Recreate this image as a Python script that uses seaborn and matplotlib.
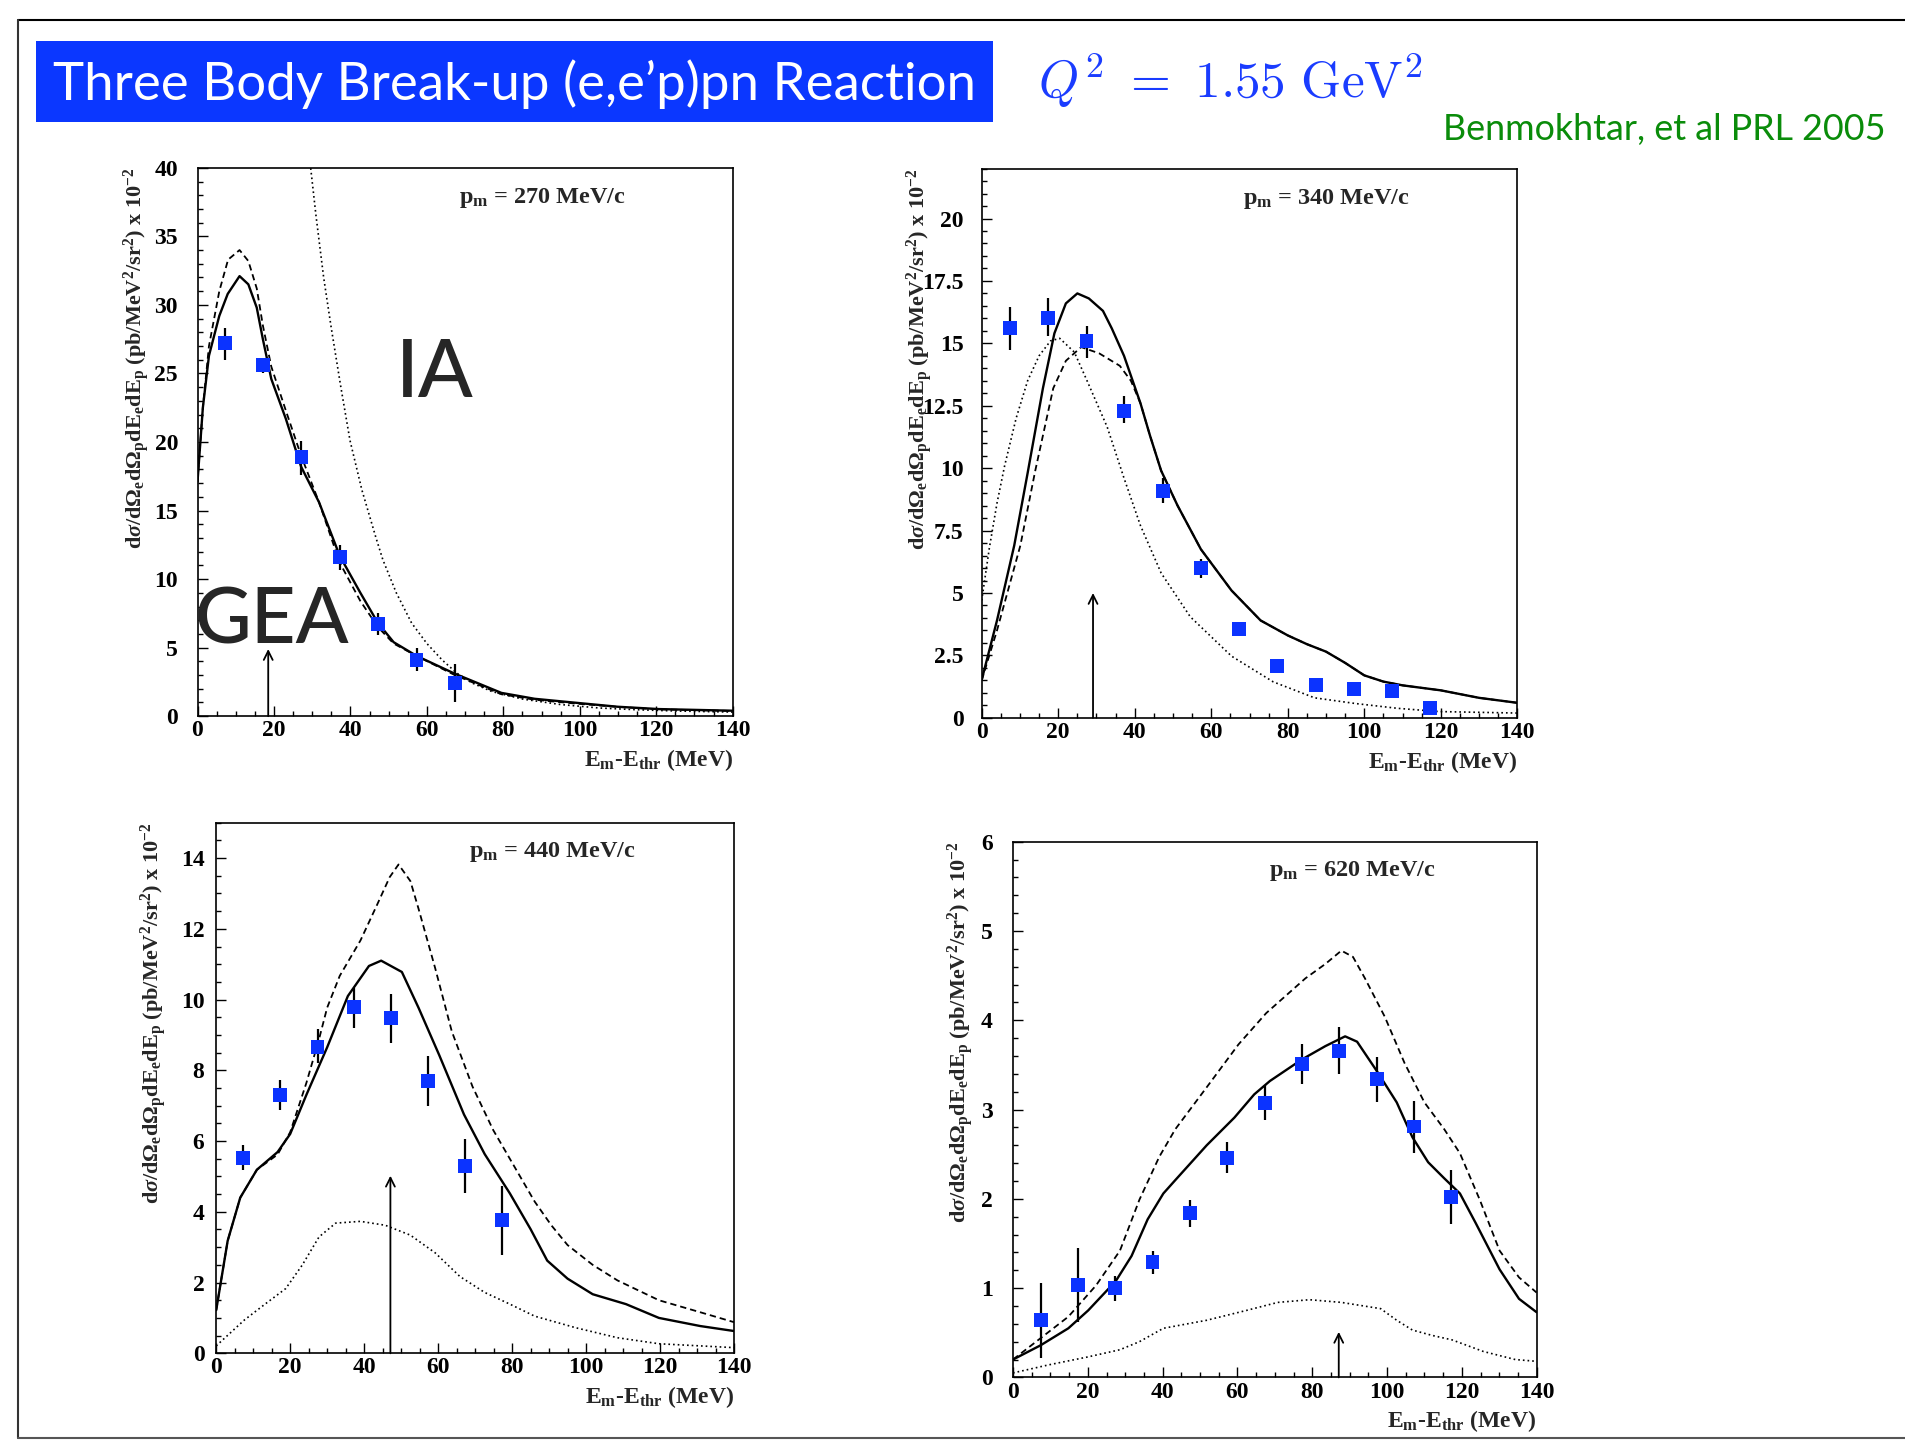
import matplotlib
matplotlib.use("Agg")
import pandas as pd
import matplotlib.pyplot as plt
import seaborn as sns
from matplotlib.lines import Line2D
from matplotlib.patches import Rectangle
from matplotlib.ticker import MultipleLocator, FuncFormatter

# === Settings ===
sns.set_theme(style="ticks")
plt.rcParams.update({
    "font.family": ["Liberation Serif", "DejaVu Serif"],
    "font.weight": "bold",
    "mathtext.fontset": "custom",
    "mathtext.rm": "Liberation Serif:bold",
    "mathtext.it": "Liberation Serif:italic:bold",
    "mathtext.bf": "Liberation Serif:bold",
    "axes.linewidth": 1.2,
    "axes.edgecolor": "black",
})

W, H = 1906, 1443
BLUE = "#0b33ff"

# === Data: p_m = 270 MeV/c ===
p270_x = [7.3, 17.2, 27.2, 37.2, 47.2, 57.3, 67.3]
p270_y = [27.2, 25.6, 18.9, 11.6, 6.7, 4.1, 2.4]
p270_hi = [28.3, 26.1, 20.1, 12.5, 7.5, 5.0, 3.8]
p270_lo = [26.0, 25.0, 17.6, 10.7, 5.9, 3.3, 1.0]
gea270_x = [0, 1.4, 3, 5.7, 7.9, 11, 13.3, 15.5, 17.1, 19.3, 23.1, 27.1, 31.8, 37.2, 42.6,
            47.2, 51.3, 57.3, 67.3, 79.5, 88.2, 99, 109.9, 120.7, 140]
gea270_y = [17.1, 22.5, 26.3, 29.2, 30.8, 32.1, 31.5, 29.8, 27.5, 24.6, 21.7, 18.2, 15.6, 11.7, 9.0,
            6.8, 5.4, 4.4, 3.1, 1.7, 1.27, 0.98, 0.69, 0.52, 0.4]
nr270_x = [0, 1.4, 3, 5.7, 8, 11, 13.3, 15.5, 17.1, 19.3, 23.1, 27.1, 31.8, 37.2, 42.6,
           47.2, 51.3, 57.3, 67.3, 79.5, 88.2, 99, 109.9, 120.7, 140]
nr270_y = [17.1, 22.5, 27.0, 31.0, 33.3, 34.0, 33.2, 31.2, 28.5, 25.5, 22.3, 19.0, 15.6, 11.2, 8.4,
           6.5, 5.3, 4.4, 3.0, 1.6, 1.2, 0.92, 0.68, 0.5, 0.38]
ia270_x = [28.8, 29.6, 31, 33, 35, 37.5, 39.9, 43, 46.7, 48.5, 52, 56, 60, 64, 67.8, 72, 77,
           85, 95, 105, 115, 125, 140]
ia270_y = [42, 40, 36.5, 32, 28.3, 24, 20.1, 16.5, 13.0, 11.4, 9.0, 6.8, 5.3, 4.1, 3.15, 2.4, 1.8,
           1.25, 0.85, 0.6, 0.47, 0.38, 0.3]

# === Data: p_m = 340 MeV/c ===
p340_x = [7.3, 17.3, 27.4, 37.3, 47.4, 57.3, 67.3, 77.3, 87.3, 97.3, 107.3, 117.2]
p340_y = [15.6, 16.0, 15.1, 12.3, 9.1, 6.0, 3.56, 2.06, 1.33, 1.17, 1.08, 0.38]
p340_hi = [16.45, 16.8, 15.7, 12.9, 9.6, 6.35, 3.7, 2.15, 1.45, 1.25, 1.15, 0.45]
p340_lo = [14.75, 15.3, 14.4, 11.8, 8.6, 5.6, 3.4, 1.95, 1.2, 1.08, 1.0, 0.3]
gea340_x = [0, 4, 8.5, 12, 16, 19, 22, 25, 28, 31.7, 34, 37.2, 41.5, 44, 46.9, 51.2, 57.3,
            65.3, 72.9, 80, 85, 90, 95, 100, 105, 110, 120, 130, 140]
gea340_y = [1.52, 3.9, 6.9, 9.8, 13.2, 15.4, 16.6, 17.0, 16.8, 16.3, 15.6, 14.5, 12.6, 11.3, 9.9,
            8.5, 6.75, 5.1, 3.9, 3.3, 2.95, 2.65, 2.2, 1.7, 1.45, 1.3, 1.1, 0.8, 0.6]
nr340_x = [0, 4, 10.1, 14, 18.7, 22, 26, 30.7, 36.1, 39, 41.5, 44, 46.9, 51.2, 57.3,
           65.3, 72.9, 80, 85, 90, 95, 100, 105, 110, 120, 130, 140]
nr340_y = [1.5, 3.5, 6.9, 9.9, 13.2, 14.3, 14.85, 14.6, 14.1, 13.5, 12.6, 11.3, 9.9, 8.5, 6.75,
           5.1, 3.9, 3.3, 2.95, 2.65, 2.2, 1.7, 1.45, 1.3, 1.1, 0.8, 0.6]
ia340_x = [0, 2, 4, 6, 9, 12, 15, 18, 20.4, 24.2, 27.4, 32.8, 37.2, 41.5, 46.9, 54.5, 65.3,
           76.2, 87, 97.8, 108.7, 119.5, 140]
ia340_y = [4.7, 6.8, 8.6, 10.1, 12.0, 13.5, 14.5, 15.1, 15.2, 14.65, 13.55, 11.65, 9.6, 7.7, 5.8,
           4.05, 2.47, 1.44, 0.8, 0.57, 0.38, 0.25, 0.19]

# === Data: p_m = 440 MeV/c ===
p440_x = [7.3, 17.3, 27.4, 37.3, 47.3, 57.3, 67.3, 77.3]
p440_y = [5.52, 7.31, 8.65, 9.8, 9.47, 7.69, 5.3, 3.76]
p440_hi = [5.88, 7.73, 9.16, 10.33, 10.16, 8.41, 6.06, 4.74]
p440_lo = [5.17, 6.89, 8.21, 9.21, 8.77, 6.98, 4.52, 2.78]
gea440_x = [0, 3.1, 6.5, 11, 16.6, 20, 24.4, 30, 35.6, 41.3, 44.6, 50.2, 54.7, 60.3, 67, 72.6,
            79.4, 85, 89.5, 95, 101.8, 110.8, 119.7, 130.9, 140]
gea440_y = [1.22, 3.18, 4.4, 5.19, 5.69, 6.2, 7.31, 8.65, 10.1, 10.95, 11.1, 10.78, 9.77, 8.43,
            6.75, 5.63, 4.52, 3.51, 2.62, 2.11, 1.67, 1.39, 1.0, 0.77, 0.63]
nr440_x = [0, 3.1, 6.5, 11, 16.6, 20, 24.4, 27.8, 30, 33.4, 39, 43.5, 46.9, 49.3, 52.5, 54.7,
           59.2, 63.7, 69.3, 74.9, 80.5, 86.1, 90.6, 95, 101.8, 108.5, 119.7, 130.9, 140]
nr440_y = [1.22, 3.18, 4.4, 5.19, 5.62, 6.25, 7.65, 8.88, 9.77, 10.67, 11.67, 12.68, 13.46, 13.82,
           13.35, 12.57, 10.89, 9.1, 7.54, 6.31, 5.3, 4.29, 3.62, 3.06, 2.5, 2.06, 1.5, 1.16, 0.88]
ia440_x = [0, 7.6, 13.2, 18.8, 23.3, 27.8, 32.3, 39, 45.7, 52.5, 59.2, 65.9, 72.6, 79.4, 86.1,
           97.3, 108.5, 119.7, 140]
ia440_y = [0.21, 0.94, 1.39, 1.83, 2.5, 3.29, 3.68, 3.73, 3.62, 3.34, 2.84, 2.17, 1.72, 1.39,
           1.05, 0.72, 0.44, 0.27, 0.16]

# === Data: p_m = 620 MeV/c ===
p620_x = [7.4, 17.3, 27.3, 37.3, 47.3, 57.3, 67.3, 77.3, 87.2, 97.3, 107.2, 117.2]
p620_y = [0.64, 1.03, 1.0, 1.29, 1.84, 2.46, 3.07, 3.51, 3.66, 3.34, 2.81, 2.02]
p620_hi = [1.06, 1.45, 1.14, 1.42, 1.99, 2.64, 3.28, 3.73, 3.92, 3.59, 3.1, 2.32]
p620_lo = [0.22, 0.62, 0.86, 1.16, 1.69, 2.29, 2.88, 3.29, 3.4, 3.08, 2.51, 1.72]
gea620_x = [0, 7.4, 14.8, 20.1, 27.5, 31.7, 36, 40.2, 43.4, 51.8, 59.2, 64.5, 68.7, 77.2, 83.5,
            88.8, 92, 97.3, 102.6, 106.8, 111, 115.3, 119.5, 123.7, 130.1, 135.3, 140]
gea620_y = [0.2, 0.36, 0.55, 0.75, 1.08, 1.36, 1.77, 2.06, 2.21, 2.6, 2.91, 3.17, 3.32, 3.56, 3.71,
            3.82, 3.76, 3.43, 3.08, 2.69, 2.41, 2.23, 2.06, 1.73, 1.21, 0.88, 0.73]
nr620_x = [0, 7.4, 14.8, 22.2, 28.6, 33.8, 39.1, 43.4, 51.8, 60.3, 67.7, 78.2, 83.5, 87.8, 90.9,
           94.1, 99.4, 104.7, 110, 115.3, 119.5, 124.8, 130.1, 135.3, 140]
nr620_y = [0.2, 0.44, 0.68, 1.03, 1.42, 1.99, 2.47, 2.78, 3.25, 3.73, 4.08, 4.47, 4.63, 4.78, 4.71,
           4.47, 4.04, 3.52, 3.08, 2.78, 2.51, 1.99, 1.42, 1.12, 0.95]
ia620_x = [0, 9.5, 20.1, 28.6, 33.8, 40.2, 51.8, 62.4, 70.8, 79.3, 87.8, 98.3, 102.6, 106.8,
           112.1, 117.4, 125.8, 134.3, 140]
ia620_y = [0.05, 0.14, 0.23, 0.31, 0.4, 0.55, 0.64, 0.75, 0.84, 0.87, 0.84, 0.77, 0.64, 0.53,
           0.47, 0.42, 0.29, 0.2, 0.18]

panel_labels = ["270", "340", "440", "620"]
arrow_x = [18.5, 29.1, 47.1, 87.1]
arrow_top = [4.9, 5.0, 5.02, 0.51]
y_max = [40, 22, 15, 6]
y_major = [5, 2.5, 2, 1]
y_minor = [1, 0.5, 0.5, 0.2]

panels = [
    (p270_x, p270_y, p270_hi, p270_lo, gea270_x, gea270_y, nr270_x, nr270_y, ia270_x, ia270_y),
    (p340_x, p340_y, p340_hi, p340_lo, gea340_x, gea340_y, nr340_x, nr340_y, ia340_x, ia340_y),
    (p440_x, p440_y, p440_hi, p440_lo, gea440_x, gea440_y, nr440_x, nr440_y, ia440_x, ia440_y),
    (p620_x, p620_y, p620_hi, p620_lo, gea620_x, gea620_y, nr620_x, nr620_y, ia620_x, ia620_y),
]

# axes boxes in pixels: left, top, right, bottom
boxes = [(197.5, 167.8, 732.7, 716.2), (981.7, 168.6, 1517.3, 717.8),
         (216.2, 822.7, 734.0, 1353.3), (1013.0, 841.7, 1536.6, 1377.4)]
ylab_off = [44, 45, 45, 38]
ytick_pad = [14, 13, 8.5, 14.5]

ylabel = (r"d$\sigma$/d$\Omega_{\rm e}$d$\Omega_{\rm p}$dE$_{\rm e}$dE$_{\rm p}$"
          r" (pb/MeV$^{2}$/sr$^{2}$) x 10$^{-2}$")
xlabel = r"E$_{\rm m}$-E$_{\rm thr}$ (MeV)"

fig = plt.figure(figsize=(W / 100, H / 100), dpi=100)

for i, (px, py, phi, plo, gx, gy, nx, ny, ix, iy) in enumerate(panels):
    l, t, r, b = boxes[i]
    ax = fig.add_axes([l / W, 1 - b / H, (r - l) / W, (b - t) / H])

    sns.lineplot(x=ix, y=iy, ax=ax, color="black", lw=1.2, linestyle=(0, (1, 1.8)),
                 estimator=None, sort=False)
    sns.lineplot(x=nx, y=ny, ax=ax, color="black", lw=1.3, linestyle=(0, (3.5, 2.2)),
                 estimator=None, sort=False)
    sns.lineplot(x=gx, y=gy, ax=ax, color="black", lw=1.7, estimator=None, sort=False)

    ax.vlines(px, plo, phi, color="black", lw=1.6, zorder=3)
    sns.scatterplot(x=px, y=py, ax=ax, marker="s", s=100, color=BLUE, edgecolor="none",
                    zorder=4)

    ax.annotate("", xy=(arrow_x[i], arrow_top[i]), xytext=(arrow_x[i], 0),
                arrowprops=dict(arrowstyle="->", color="black", lw=1.3, mutation_scale=16,
                                shrinkA=0, shrinkB=0))

    ax.set_xlim(0, 140)
    ax.set_ylim(0, y_max[i])
    ax.xaxis.set_major_locator(MultipleLocator(20))
    ax.xaxis.set_minor_locator(MultipleLocator(5))
    ax.yaxis.set_major_locator(MultipleLocator(y_major[i]))
    ax.yaxis.set_minor_locator(MultipleLocator(y_minor[i]))
    ax.yaxis.set_major_formatter(FuncFormatter(lambda v, p: f"{v:g}"))
    ax.tick_params(which="both", direction="in", top=False, right=False, width=1.0,
                   colors="black")
    ax.tick_params(which="major", length=7.2, labelsize=17)
    ax.tick_params(which="minor", length=3.6)
    ax.tick_params(axis="x", which="major", pad=3)
    ax.tick_params(axis="y", which="major", pad=ytick_pad[i])
    for sp in ax.spines.values():
        sp.set_visible(True)
        sp.set_linewidth(1.2)
    ax.set_xlabel("")
    ax.set_ylabel("")

    ax.text(0.488, 0.936, r"p$_{\rm m}$ = " + panel_labels[i] + " MeV/c",
            transform=ax.transAxes, fontsize=17.5, ha="left", va="baseline")
    ax.annotate(xlabel, xy=(1, 0), xycoords="axes fraction", xytext=(0, -36),
                textcoords="offset points", ha="right", va="baseline", fontsize=17)
    ax.annotate(ylabel, xy=(0, 1), xycoords="axes fraction", xytext=(-ylab_off[i], 0),
                textcoords="offset points", ha="center", va="top", rotation=90,
                fontsize=16)

    if i == 0:
        ax.text(0.370, 0.582, "IA", transform=ax.transAxes, fontfamily="Lato",
                fontweight="medium", fontsize=58, va="baseline", ha="left")
        ax.text(-0.005, 0.132, "GEA", transform=ax.transAxes, fontfamily="Lato",
                fontweight="medium", fontsize=56, va="baseline", ha="left", clip_on=False)

# === Header ===
fig.patches.append(Rectangle((36.5 / W, 1 - 122 / H), (993 - 36.5) / W, 81 / H,
                             transform=fig.transFigure, facecolor="#0b37ff",
                             edgecolor="none", zorder=1))
fig.text(53.5 / W, 1 - 100 / H, "Three Body Break-up (e,e’p)pn Reaction",
         fontfamily="Lato", fontweight="normal", fontsize=38, color="white",
         va="baseline", ha="left", zorder=2)
fig.text(1038 / W, 1 - 98 / H, r"$Q^{2}\ =\ 1.55\ \mathrm{GeV}^{2}$", math_fontfamily="cm",
         fontweight="normal", fontsize=37, color="#1a3cff", va="baseline", ha="left")
fig.text(1443 / W, 1 - 140 / H, "Benmokhtar, et al PRL 2005", fontfamily="Lato",
         fontweight="normal", fontsize=25.8, color="#0a8c0a", va="baseline", ha="left")

# === Slide frame ===
fig.add_artist(Line2D([18 / W, 1], [1 - 20 / H, 1 - 20 / H], color="black", lw=1.5,
                      transform=fig.transFigure))
fig.add_artist(Line2D([18 / W, 18 / W], [1 - 20 / H, 1 - 1438 / H], color="#333333",
                      lw=1.5, transform=fig.transFigure))
fig.add_artist(Line2D([18 / W, 1], [1 - 1438 / H, 1 - 1438 / H], color="#555555",
                      lw=1.5, transform=fig.transFigure))

fig.savefig("out.png", dpi=100, facecolor="white")
print("Plot saved.")
